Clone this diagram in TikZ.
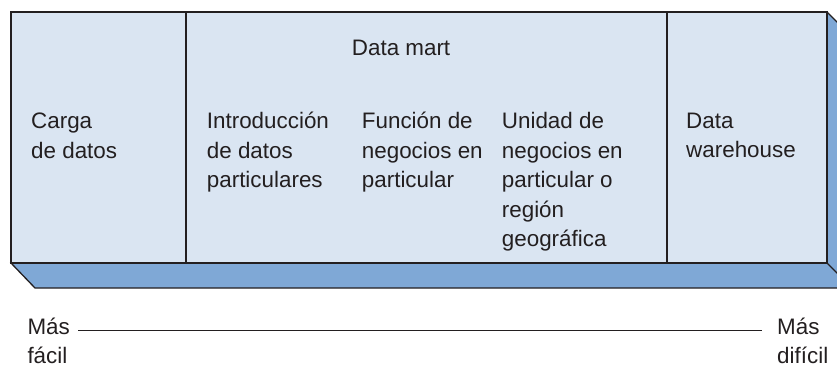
\documentclass[tikz,border=0pt]{standalone}
\usepackage{fontspec}
\setmainfont{Liberation Sans}
\definecolor{frontc}{RGB}{218,229,242}
\definecolor{sidec}{RGB}{127,168,214}
\definecolor{ink}{RGB}{35,31,32}
\begin{document}
\begin{tikzpicture}[x=1pt,y=-1pt,
  lbl/.style={anchor=base west, inner sep=0pt, align=left, text=ink,
    font=\fontsize{22.4}{29.4}\selectfont},
  edge/.style={draw=ink, line width=1.3pt, line join=miter}]
\useasboundingbox (0,0) rectangle (837,366);
\begin{scope}
  \clip (0,0) rectangle (837,366);
  \path[edge, fill=sidec] (11,263) -- (35,288) -- (870,288) -- (870,55) -- (827,12) -- cycle;
  \draw[edge] (827,263) -- (852,288);
\end{scope}
\path[edge, fill=frontc] (11,12) rectangle (827,263);
\draw[edge, line width=1.1pt] (186,12) -- (186,263);
\draw[edge, line width=1.1pt] (667,12) -- (667,263);

% anchor base = baseline of the last line
\node[lbl] (dm) at (351.7,56) {Data mart};
\node[lbl] (carga) at (31,158.3) {Carga\\de datos};
\node[lbl] (intro) at (206.7,187.5) {Introducción\\de datos\\particulares};
\node[lbl] (func) at (361.7,187.5) {Función de\\negocios en\\particular};
\node[lbl] (unid) at (501.7,246.5) {Unidad de\\negocios en\\particular o\\región\\geográfica};
\node[lbl] (dw) at (686,157.5) {Data\\warehouse};

\node[lbl] (facil) at (27.3,363.5) {Más\\fácil};
\node[lbl] (dificil) at (777,363.5) {Más\\difícil};
\coordinate (la) at (78,330.7);
\coordinate (lb) at (761.7,330.7);
\draw[ink, line width=1.2pt] (la) -- (lb);
\end{tikzpicture}
\end{document}
